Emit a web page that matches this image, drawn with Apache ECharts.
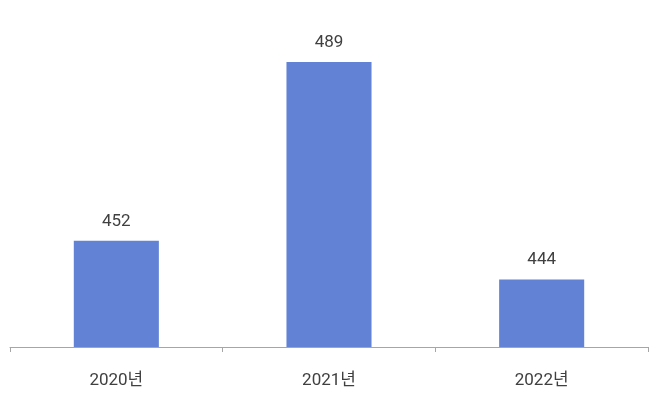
<!DOCTYPE html>
<html><head><meta charset="utf-8">
<script src="https://cdn.jsdelivr.net/npm/echarts@6/dist/echarts.min.js"></script>
<style>html,body{margin:0;padding:0;background:#fff}#c{width:660px;height:404px}</style>
</head><body><div id="c"></div>
<script>
const categories = ['2020년', '2021년', '2022년'];
const values = [452, 489, 444];
const yMin = 430, yMax = 500;
const FONT = 'Roboto, "Noto Sans CJK KR", sans-serif';
const chart = echarts.init(document.getElementById('c'));
chart.setOption({
  animation: false,
  textStyle: { fontFamily: FONT },
  grid: { left: 10, right: 12, top: 9, bottom: 57, containLabel: false },
  xAxis: {
    type: 'category', data: categories,
    axisLine: { lineStyle: { color: '#a6a6a6', width: 1 } },
    axisTick: { show: true, length: 5, lineStyle: { color: '#a6a6a6' } },
    axisLabel: { color: '#404040', fontSize: 17, margin: 25, fontFamily: FONT }
  },
  yAxis: {
    type: 'value', min: yMin, max: yMax, show: false,
    splitLine: { show: false }
  },
  series: [{
    type: 'bar', data: values, barWidth: '40%',
    itemStyle: { color: '#6282D6' },
    label: { show: true, position: 'top', distance: 11, color: '#404040', fontSize: 17, fontFamily: FONT }
  }]
});
</script></body></html>
